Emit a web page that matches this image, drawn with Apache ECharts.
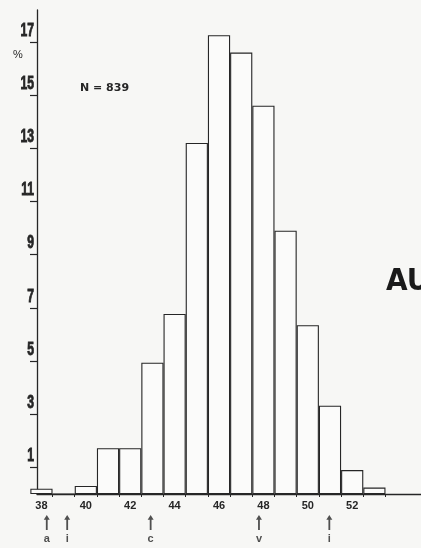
<!DOCTYPE html>
<html>
<head>
<meta charset="utf-8">
<script src="https://cdn.jsdelivr.net/npm/echarts@6/dist/echarts.min.js"></script>
<style>
  html, body { margin: 0; padding: 0; background: #f7f7f5; }
  #chart { width: 421px; height: 548px; }
</style>
</head>
<body>
<div id="chart"></div>
<script>
// histogram classes and % per class
const classes = [38, 39, 40, 41, 42, 43, 44, 45, 46, 47, 48, 49, 50, 51, 52, 53];
const percents = [0.2, 0, 0.3, 1.72, 1.72, 4.94, 6.77, 13.2, 17.25, 16.6, 14.6, 9.9, 6.35, 3.32, 0.9, 0.24];
const yTickValues = [1, 3, 5, 7, 9, 11, 13, 15, 17];
const xTickLabels = [38, 40, 42, 44, 46, 48, 50, 52];
const classEdges = [38.5, 39.5, 40.5, 41.5, 42.5, 43.5, 44.5, 45.5, 46.5, 47.5, 48.5, 49.5, 50.5, 51.5, 52.5, 53.5];
// arrows under the axis
const markerPos = [38.24, 39.16, 42.92, 47.8, 50.97];
const markerLetters = ['a', 'i', 'c', 'v', 'i'];
const sampleSize = 839;

const ink = '#262626';
const sans = "'Liberation Sans', Arial, sans-serif";
const xMin = 37.8, xMax = 55.1;

var myChart = echarts.init(document.getElementById('chart'));

var option = {
  backgroundColor: '#f7f7f5',
  animation: false,
  grid: [
    { left: 37, right: 0, top: 10, bottom: 54 },
    { left: 37, right: 0, top: 515, height: 15 }
  ],
  xAxis: [
    {
      type: 'value',
      gridIndex: 0,
      min: xMin,
      max: xMax,
      splitLine: { show: false },
      axisLine: { show: true, lineStyle: { color: ink, width: 1.3 } },
      axisTick: {
        show: true,
        customValues: classEdges,
        length: 3,
        lineStyle: { color: ink, width: 1 }
      },
      axisLabel: {
        customValues: xTickLabels,
        margin: 6,
        color: ink,
        fontSize: 11,
        fontWeight: 'bold',
        fontFamily: sans
      }
    },
    {
      type: 'value',
      gridIndex: 1,
      min: xMin,
      max: xMax,
      show: false
    }
  ],
  yAxis: [
    {
      type: 'value',
      gridIndex: 0,
      min: 0,
      max: 18.2,
      splitLine: { show: false },
      axisLine: { show: true, lineStyle: { color: ink, width: 1.3 } },
      axisTick: {
        show: true,
        customValues: yTickValues,
        length: 7,
        lineStyle: { color: ink, width: 1.2 }
      },
      // labels drawn below as condensed text
      axisLabel: { show: false }
    },
    {
      type: 'value',
      gridIndex: 1,
      min: 0,
      max: 1,
      show: false
    }
  ],
  series: [
    {
      type: 'bar',
      xAxisIndex: 0,
      yAxisIndex: 0,
      barWidth: '100%',
      clip: true,
      data: classes.map((c, i) => [c, percents[i]]),
      itemStyle: {
        color: '#fbfbfa',
        borderColor: ink,
        borderWidth: 1.1
      },
      z: 1
    },
    {
      type: 'scatter',
      xAxisIndex: 1,
      yAxisIndex: 1,
      symbol: 'path://M4,0 L8,7 L5.2,7 L5.2,22 L2.8,22 L2.8,7 L0,7 Z',
      symbolSize: [6, 15],
      itemStyle: { color: ink },
      data: markerPos.map((p, i) => ({ value: [p, 0.5], name: markerLetters[i] })),
      label: {
        show: true,
        position: 'bottom',
        distance: 3,
        formatter: (p) => p.name,
        color: ink,
        fontSize: 11,
        fontWeight: 'bold',
        fontFamily: sans
      }
    }
  ],
  graphic: [
    {
      type: 'text',
      left: 13,
      top: 49,
      style: { text: '%', fill: ink, fontSize: 11, fontFamily: sans }
    },
    {
      type: 'text',
      left: 80,
      top: 83,
      style: { text: 'N = ' + sampleSize, fill: ink, fontSize: 11, fontWeight: 'bold', fontFamily: "'DejaVu Sans', sans-serif" }
    },
    {
      type: 'text',
      left: 386,
      top: 266,
      style: { text: 'AU', fill: '#1a1a1a', fontSize: 31, fontWeight: 'bold', fontFamily: "'DejaVu Sans Condensed', 'DejaVu Sans', sans-serif" }
    }
  ]
};

myChart.setOption(option);

// tall, narrow y labels (the scan's typeface is very condensed)
var yLabels = yTickValues.map(function (v) {
  var py = myChart.convertToPixel({ yAxisIndex: 0 }, v);
  return {
    type: 'text',
    x: 34,
    y: py - 2,
    scaleX: 0.64,
    style: {
      text: String(v),
      fill: ink,
      stroke: ink,
      lineWidth: 0.9,
      fontSize: 19,
      fontWeight: 'bold',
      fontFamily: sans,
      align: 'right',
      verticalAlign: 'bottom'
    }
  };
});
myChart.setOption({ graphic: option.graphic.concat(yLabels) });
</script>
</body>
</html>
